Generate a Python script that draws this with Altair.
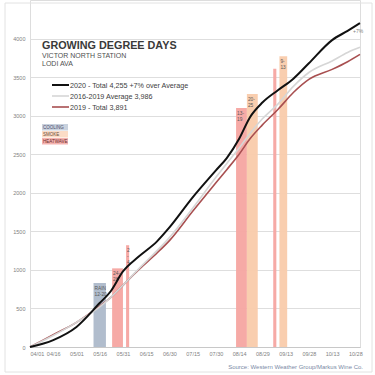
import altair as alt
import pandas as pd

# ---- data ----
dates = ["04/01", "04/16", "05/01", "05/16", "05/23", "05/31", "06/10", "06/22", "06/30",
         "07/15", "07/30", "08/06", "08/14", "08/21", "08/29", "09/08", "09/18", "09/28",
         "10/13", "10/23", "10/31"]
gdd_2020 = [0, 90, 260, 570, 720, 980, 1170, 1370, 1550, 1940, 2290, 2450, 2700, 2980,
            3170, 3330, 3480, 3680, 3980, 4100, 4200]
gdd_avg = [0, 150, 320, 520, 640, 800, 1010, 1250, 1420, 1800, 2200, 2380, 2580, 2770,
           2960, 3150, 3380, 3560, 3710, 3820, 3886]
gdd_2019 = [0, 160, 320, 530, 640, 800, 1000, 1220, 1380, 1760, 2130, 2300, 2500, 2700,
            2880, 3080, 3300, 3470, 3600, 3700, 3795]

event_start = ["05/12", "05/24", "06/02", "08/12", "08/19", "09/05", "09/09"]
event_end = ["05/20", "05/31", "06/04", "08/19", "08/26", "09/07", "09/14"]
event_top = [830, 1020, 1320, 3100, 3280, 3610, 3770]
event_kind = ["COOLING", "HEATWAVE", "HEATWAVE", "HEATWAVE", "SMOKE", "HEATWAVE", "SMOKE"]
event_label = ["RAIN\n12-20", "24-\n28", "2\n-\n4", "13-\n19", "20-\n25", "", "9-\n13"]

tick_labels = ["04/01", "04/16", "05/01", "05/16", "05/31", "06/15", "06/30", "07/15",
               "07/30", "08/14", "08/29", "09/13", "09/28", "10/13", "10/28"]
y_ticks = [0, 500, 1000, 1500, 2000, 2500, 3000, 3500, 4000]

series_names = ["2020", "2016-2019 Avg", "2019"]
series_colors = ["#111111", "#d6d6d6", "#a84f50"]
series_widths = [2, 1.6, 1.6]
kinds = ["COOLING", "SMOKE", "HEATWAVE"]
kind_colors = ["#adb9ca", "#f9cbab", "#f5a5a1"]


def day(s):
    return (pd.Timestamp("2020/" + s) - pd.Timestamp("2020/04/01")).days


rows = []
for name, vals in zip(series_names, [gdd_2020, gdd_avg, gdd_2019]):
    for d, v in zip(dates, vals):
        rows.append({"day": day(d), "gdd": v, "series": name})
lines_df = pd.DataFrame(rows)

ev_df = pd.DataFrame({
    "start": [day(s) for s in event_start],
    "end": [day(s) for s in event_end],
    "top": event_top,
    "kind": event_kind,
    "label": event_label,
    "zero": 0,
})

tick_days = [day(t) for t in tick_labels]
label_expr = "{" + ",".join(f"'{d}':'{t}'" for d, t in zip(tick_days, tick_labels)) + "}[datum.value]"

xs = alt.Scale(domain=[0, 213], nice=False, zero=False)
ys = alt.Scale(domain=[0, 4500], nice=False)

x_axis = alt.Axis(values=tick_days, labelExpr=label_expr, grid=False, ticks=False,
                  labelFontSize=5.5, labelColor="#7f7f7f", domainColor="#c8c8c8",
                  labelPadding=4, title=None, labelFont="Liberation Sans",
                  labelOverlap=False, labelBound=False)
y_axis = alt.Axis(values=y_ticks, format="d", grid=True, gridColor="#dedede", ticks=False,
                  domain=False, labelFontSize=5.5, labelColor="#7f7f7f", labelPadding=5,
                  title=None, labelFont="Liberation Sans", labelOverlap=False)

bars = alt.Chart(ev_df).mark_rect(opacity=0.95).encode(
    x=alt.X("start:Q", scale=xs, axis=x_axis),
    x2="end:Q",
    y=alt.Y("top:Q", scale=ys, axis=y_axis),
    y2="zero:Q",
    color=alt.Color("kind:N", scale=alt.Scale(domain=kinds, range=kind_colors), legend=None),
)

bar_text = alt.Chart(ev_df).mark_text(
    align="left", baseline="top", fontSize=4.8, color="#595959", dx=1, dy=3,
    lineBreak="\n", lineHeight=6, font="Liberation Sans"
).encode(x=alt.X("start:Q", scale=xs, axis=x_axis), y=alt.Y("top:Q", scale=ys, axis=y_axis),
         text="label:N")

line_layers = []
for name, col, w in zip(series_names[::-1], series_colors[::-1], series_widths[::-1]):
    line_layers.append(
        alt.Chart(lines_df).transform_filter(alt.datum.series == name)
        .mark_line(interpolate="monotone", color=col, strokeWidth=w)
        .encode(x=alt.X("day:Q", scale=xs, axis=x_axis), y=alt.Y("gdd:Q", scale=ys, axis=y_axis),
                order=alt.Order("day:Q"))
    )


# ---- annotations ----
def txt(x, y, s, size=7, weight="normal", color="#404040", align="left"):
    return alt.Chart(pd.DataFrame({"t": [s]})).mark_text(
        align=align, baseline="alphabetic", fontSize=size, fontWeight=weight, color=color,
        font="Liberation Sans"
    ).encode(x=alt.value(x), y=alt.value(y), text="t:N")


def rule(x1, x2, y, color, w):
    return alt.Chart(pd.DataFrame({"a": [0]})).mark_rule(color=color, strokeWidth=w).encode(
        x=alt.value(x1), x2=alt.value(x2), y=alt.value(y))


def box(x1, x2, y1, y2, color):
    return alt.Chart(pd.DataFrame({"a": [0]})).mark_rect(color=color).encode(
        x=alt.value(x1), x2=alt.value(x2), y=alt.value(y1), y2=alt.value(y2))


ann = [
    txt(12, 49, "GROWING DEGREE DAYS", size=10.8, weight="bold", color="#3a3a3a"),
    txt(12, 58, "VICTOR NORTH STATION", size=7, color="#505050"),
    txt(12, 66, "LODI AVA", size=7, color="#505050"),
    rule(22, 39, 85, "#111111", 2),
    rule(22, 39, 96, "#d6d6d6", 1.6),
    rule(22, 39, 107, "#a84f50", 1.6),
    txt(40, 87.5, "2020 - Total 4,255 +7% over Average", size=7.2),
    txt(40, 98.5, "2016-2019 Average 3,986", size=7.2),
    txt(40, 109.5, "2019 - Total 3,891", size=7.2),
    box(12, 38, 124, 130.5, "#c9d2de"),
    box(12, 38, 131, 137.5, "#fbdcc6"),
    box(12, 38, 138, 144.5, "#f5b3b0"),
    txt(13, 129, "COOLING", size=4.5, color="#4a4a6a"),
    txt(13, 136, "SMOKE", size=4.5, color="#6a4a3a"),
    txt(13, 143, "HEATWAVE", size=4.5, color="#6a2a2a"),
    txt(323, 33, "+7%", size=5, color="#808080"),
    txt(333, 369, "Source: Western Weather Group/Markus Wine Co.", size=6, color="#7a8aa6", align="right"),
]

frame = alt.Chart(pd.DataFrame({"a": [0]})).mark_rect(
    fill=None, stroke="#e2e2e2", strokeWidth=1
).encode(x=alt.value(-25), x2=alt.value(342), y=alt.value(3), y2=alt.value(372))

chart = alt.layer(frame, bars, bar_text, *line_layers, *ann).properties(
    width=330, height=347,
    autosize=alt.AutoSizeParams(type="none"),
    padding={"left": 30, "top": 0, "right": 15, "bottom": 28},
).configure_view(stroke=None).configure(background="white")

chart.save("out.html", embed_options={"renderer": "svg", "actions": False})
